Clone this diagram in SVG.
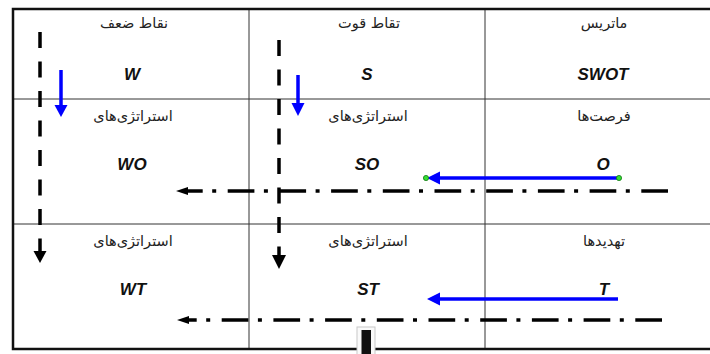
<svg xmlns="http://www.w3.org/2000/svg" width="710" height="354" viewBox="0 0 710 354">
<style>
.ar{font-family:"DejaVu Sans",sans-serif;font-size:14.5px;fill:#222;text-anchor:middle}
.lt{font-family:"Liberation Sans",Arial,sans-serif;font-size:17px;font-weight:bold;font-style:italic;fill:#111;text-anchor:middle}
.grid{stroke:#333;stroke-width:1;fill:none}
.vd{stroke:#000;stroke-width:3.5;fill:none;stroke-dasharray:16 13.5}
.dd{stroke:#000;stroke-width:3.5;fill:none;stroke-dasharray:26.7 11.5 4 9.5}
.bl{stroke:#0000ff;stroke-width:3.5;fill:none}
</style>
<rect x="0" y="0" width="710" height="354" fill="#fff"/>
<g id="table">
<line class="grid" x1="13" y1="99" x2="710" y2="99" stroke="#555" stroke-width="1.5"/>
<line class="grid" x1="13" y1="224" x2="710" y2="224"/>
<line class="grid" x1="249" y1="9" x2="249" y2="349"/>
<line class="grid" x1="485" y1="9" x2="485" y2="349"/>
<path d="M720 9 H13 V349 H720" fill="none" stroke="#111" stroke-width="2.5"/>
</g>
<g id="cell-swot"><text class="ar" x="604" y="28">ماتریس</text><text class="lt" x="603" y="80">SWOT</text></g>
<g id="cell-s"><text class="ar" x="369" y="28">تقاط قوت</text><text class="lt" x="367" y="80">S</text></g>
<g id="cell-w"><text class="ar" x="134" y="28">نقاط ضعف</text><text class="lt" x="132" y="80">W</text></g>
<g id="cell-o"><text class="ar" x="604" y="121">فرصت‌ها</text><text class="lt" x="603" y="170">O</text></g>
<g id="cell-so"><text class="ar" x="368" y="121">استراتژی‌های</text><text class="lt" x="367" y="170">SO</text></g>
<g id="cell-wo"><text class="ar" x="133" y="121">استراتژی‌های</text><text class="lt" x="132" y="170">WO</text></g>
<g id="cell-t"><text class="ar" x="604" y="246">تهدیدها</text><text class="lt" x="604" y="295">T</text></g>
<g id="cell-st"><text class="ar" x="368" y="246">استراتژی‌های</text><text class="lt" x="368" y="295">ST</text></g>
<g id="cell-wt"><text class="ar" x="133" y="246">استراتژی‌های</text><text class="lt" x="133" y="295">WT</text></g>
<g id="connectors">
<path class="vd" d="M40 32 V252"/>
<polygon points="33.5,251 46.5,251 40,263" fill="#000"/>
<path class="vd" d="M279 40 V256"/>
<polygon points="272,255 286,255 279,269" fill="#000"/>
<path class="bl" d="M61 70 V106"/>
<polygon points="54.5,105 67.5,105 61,117" fill="#0000ff"/>
<path class="bl" d="M298 75 V104"/>
<polygon points="291.5,103 304.5,103 298,116" fill="#0000ff"/>
<path class="bl" d="M619 178 H439"/>
<polygon points="440,171.5 440,184.5 427,178" fill="#0000ff"/>
<circle cx="619" cy="178" r="2.6" fill="#33dd33" stroke="#117711" stroke-width="0.8"/>
<circle cx="426" cy="178" r="2.6" fill="#33dd33" stroke="#117711" stroke-width="0.8"/>
<path class="bl" d="M618 299 H439"/>
<polygon points="440,292.5 440,305.5 427,299" fill="#0000ff"/>
<path class="dd" d="M668 191 H187"/>
<polygon points="188,187 188,195 176,191" fill="#000"/>
<path class="dd" d="M662 320 H189"/>
<polygon points="189,316 189,324 177,320" fill="#000"/>
</g>
<rect x="357" y="327" width="18" height="30" fill="#fafafa" stroke="#c8c8c8" stroke-width="1"/>
<rect x="361.5" y="330" width="9.5" height="26" fill="#111"/>
</svg>
